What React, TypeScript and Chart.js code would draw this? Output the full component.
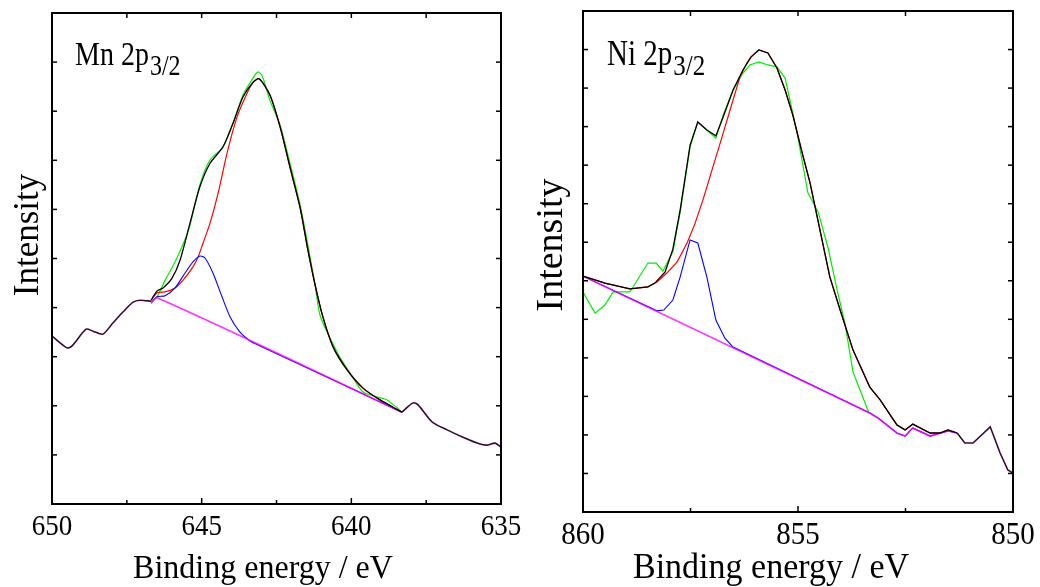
import React, { useEffect, useRef } from "react";
import { Chart, registerables } from "chart.js";
Chart.register(...registerables);

// ---------------- Mn 2p3/2 panel ----------------
const mnXTicks = [650, 645, 640, 635];
const mnXMinor = [647.5, 642.5, 637.5];
const mnYTicks = [1, 2, 3, 4, 5, 6, 7, 8, 9];

const mnHeadE = [650.0, 649.5, 649.33, 648.86, 648.63, 648.3, 647.96, 647.63, 647.29, 647.06, 646.69];
const mnHeadI = [3.42, 3.18, 3.22, 3.56, 3.52, 3.46, 3.69, 3.91, 4.11, 4.15, 4.13];

const mnTailE = [638.31, 637.94, 637.77, 637.3, 636.8, 636.27, 635.7, 635.47, 635.2, 635.0];
const mnTailI = [1.87, 2.06, 2.02, 1.67, 1.51, 1.36, 1.22, 1.2, 1.24, 1.16];

const mnFitE = [646.69, 646.49, 646.29, 645.99, 645.72, 645.39, 645.06, 644.72, 644.29, 643.95, 643.62, 643.28, 643.08, 642.72, 642.38, 642.05, 641.71, 641.45, 641.21, 640.95, 640.61, 640.14, 639.61, 639.04, 638.31];
const mnFitI = [4.15, 4.34, 4.4, 4.6, 4.97, 5.72, 6.46, 6.94, 7.27, 7.76, 8.29, 8.59, 8.66, 8.33, 7.68, 6.86, 6.03, 5.17, 4.46, 3.81, 3.2, 2.73, 2.36, 2.12, 1.87];

const mnRawE = [646.69, 646.49, 646.22, 645.89, 645.56, 645.39, 645.06, 644.72, 644.29, 643.95, 643.62, 643.28, 643.12, 642.98, 642.72, 642.38, 642.05, 641.71, 641.45, 641.21, 641.05, 640.71, 640.38, 639.94, 639.61, 639.14, 638.81, 638.47, 638.31];
const mnRawI = [4.13, 4.22, 4.56, 4.93, 5.38, 5.68, 6.5, 7.01, 7.27, 7.76, 8.33, 8.68, 8.8, 8.72, 8.22, 7.72, 6.94, 6.09, 5.27, 4.46, 3.85, 3.38, 2.99, 2.57, 2.28, 2.18, 2.12, 1.96, 1.87];

const mnMainE = [646.69, 646.49, 646.22, 645.89, 645.62, 645.29, 645.12, 644.95, 644.72, 644.45, 644.15, 643.82, 643.48, 643.28, 643.08, 642.72, 642.38, 642.05, 641.71, 641.45, 641.21, 640.95, 640.61, 640.14, 639.61, 639.04, 638.31];
const mnMainI = [4.15, 4.3, 4.32, 4.4, 4.56, 4.83, 5.03, 5.32, 5.72, 6.33, 7.15, 7.88, 8.37, 8.59, 8.66, 8.33, 7.68, 6.86, 6.03, 5.17, 4.46, 3.81, 3.2, 2.73, 2.36, 2.12, 1.87];

const mnSatE = [646.69, 646.49, 646.22, 645.89, 645.56, 645.29, 645.06, 644.89, 644.62, 644.32, 644.05, 643.72, 643.38, 643.05, 638.31];
const mnSatI = [4.09, 4.22, 4.24, 4.4, 4.7, 4.93, 5.05, 5.01, 4.7, 4.22, 3.81, 3.5, 3.32, 3.22, 1.87];

const mnBgE = [646.69, 646.49, 638.31];
const mnBgI = [4.09, 4.2, 1.87];

// ---------------- Ni 2p3/2 panel ----------------
const niXTicks = [860, 855, 850];
const niXMinor = [857.5, 852.5];
const niYTicks = [1, 2, 3, 4, 5, 6, 7, 8, 9, 10, 11, 12];

const niTailE = [851.3, 851.12, 850.93, 850.53, 850.3, 850.12, 850.0];
const niTailI = [2.05, 1.79, 1.79, 2.21, 1.53, 1.09, 1.01];

const niFitE = [860.0, 859.49, 858.91, 858.49, 858.33, 858.09, 857.91, 857.74, 857.51, 857.33, 857.12, 856.91, 856.74, 856.51, 856.28, 856.09, 855.91, 855.7, 855.49, 855.3, 855.12, 854.91, 854.72, 854.49, 854.26, 854.02, 853.72, 853.33, 853.09, 852.7, 852.51, 852.33, 851.93, 851.7, 851.51, 851.3];
const niFitI = [6.12, 5.94, 5.79, 5.84, 5.94, 6.23, 6.82, 7.84, 9.52, 10.12, 9.91, 9.76, 10.25, 10.95, 11.47, 11.81, 11.99, 11.91, 11.52, 10.95, 10.3, 9.35, 8.54, 7.32, 6.1, 5.24, 4.2, 3.24, 2.91, 2.26, 2.13, 2.28, 2.05, 2.05, 2.13, 2.05];

const niRawE = [860.0, 859.72, 859.49, 859.3, 858.91, 858.49, 858.3, 858.14, 857.91, 857.74, 857.51, 857.33, 857.12, 856.91, 856.74, 856.51, 856.28, 856.12, 855.91, 855.7, 855.49, 855.3, 855.02, 854.77, 854.53, 854.3, 854.09, 853.91, 853.72, 853.56, 853.35];
const niRawI = [5.71, 5.16, 5.37, 5.71, 5.71, 6.46, 6.46, 6.25, 6.75, 7.78, 9.47, 10.12, 9.91, 9.7, 10.3, 10.95, 11.39, 11.6, 11.68, 11.6, 11.55, 11.26, 9.83, 8.28, 7.78, 6.85, 5.76, 4.9, 3.63, 3.17, 2.57];

const niMainE = [860.0, 859.49, 858.91, 858.49, 858.28, 858.05, 857.81, 857.58, 857.4, 857.21, 857.05, 856.81, 856.58, 856.35, 856.19, 856.09, 855.91, 855.7, 855.49, 855.3, 855.12, 854.91, 854.72, 854.49, 854.26, 854.02, 853.72, 853.33, 853.09, 852.7, 852.51, 852.33, 851.93, 851.7, 851.51, 851.3];
const niMainI = [6.12, 5.94, 5.79, 5.84, 5.97, 6.2, 6.49, 6.98, 7.47, 8.1, 8.69, 9.57, 10.43, 11.29, 11.65, 11.81, 11.99, 11.91, 11.52, 10.95, 10.3, 9.35, 8.54, 7.32, 6.1, 5.24, 4.2, 3.24, 2.91, 2.26, 2.13, 2.28, 2.05, 2.05, 2.13, 2.05];

const niSatE = [860.0, 858.28, 858.12, 857.91, 857.74, 857.51, 857.33, 857.12, 856.91, 856.7, 856.51, 853.33, 853.14, 852.7, 852.51, 852.33, 851.93, 851.51, 851.3];
const niSatI = [6.12, 5.22, 5.24, 5.5, 6.1, 7.06, 6.98, 6.1, 4.98, 4.51, 4.28, 2.57, 2.44, 2.05, 1.97, 2.18, 1.97, 2.1, 2.05];

const niBgE = [860.0, 853.33, 853.14, 852.7, 852.51, 852.33, 851.93, 851.51, 851.3];
const niBgI = [6.12, 2.57, 2.44, 2.05, 1.97, 2.18, 1.97, 2.1, 2.05];

const SERIF = '"Liberation Serif", "Times New Roman", serif';

const pts = (e: number[], v: number[]) => e.map((x, i) => ({ x, y: v[i] }));

type Line = { e: number[]; v: number[]; color: string; width: number; order: number };

type PanelCfg = {
  left: number;
  canvasW: number;
  xMin: number;
  xMax: number;
  yMax: number;
  xTicks: number[];
  xMinor: number[];
  yTicks: number[];
  pad: { top: number; right: number };
  yAxisW: number;
  xAxisH: number;
  tickFont: number;
  tickBase: number;
  tension: number;
  label: string;
  labelFont: number;
  subFont: number;
  labelPos: [number, number];
  xTitleFont: number;
  xTitlePos: [number, number];
  yTitleFont: number;
  yTitlePos: [number, number];
  lines: Line[];
};

const MAGENTA = "rgba(255,0,255,0.8)";
const DARK = "#380838";

const mnLines: Line[] = [
  { e: mnHeadE, v: mnHeadI, color: DARK, width: 1.6, order: 1 },
  { e: mnTailE, v: mnTailI, color: DARK, width: 1.6, order: 1 },
  { e: mnFitE, v: mnFitI, color: "#000000", width: 1.3, order: 0 },
  { e: mnBgE, v: mnBgI, color: MAGENTA, width: 1.6, order: 2 },
  { e: mnSatE, v: mnSatI, color: "#0000ff", width: 1.1, order: 3 },
  { e: mnMainE, v: mnMainI, color: "#ff0000", width: 1.2, order: 4 },
  { e: mnRawE, v: mnRawI, color: "#00ee00", width: 1.2, order: 5 },
];

const niLines: Line[] = [
  { e: niTailE, v: niTailI, color: DARK, width: 1.6, order: 1 },
  { e: niFitE, v: niFitI, color: "#000000", width: 1.3, order: 0 },
  { e: niBgE, v: niBgI, color: MAGENTA, width: 1.6, order: 2 },
  { e: niSatE, v: niSatI, color: "#0000ff", width: 1.1, order: 3 },
  { e: niMainE, v: niMainI, color: "#ff0000", width: 1.2, order: 4 },
  { e: niRawE, v: niRawI, color: "#00ee00", width: 1.2, order: 5 },
];

const panels: PanelCfg[] = [
  {
    left: 0, canvasW: 560, xMin: 635, xMax: 650, yMax: 10,
    xTicks: mnXTicks, xMinor: mnXMinor, yTicks: mnYTicks,
    pad: { top: 13, right: 59 }, yAxisW: 52, xAxisH: 83,
    tickFont: 27, tickBase: 535, tension: 0.25,
    label: "Mn 2p", labelFont: 28, subFont: 24, labelPos: [75, 65],
    xTitleFont: 32, xTitlePos: [263, 578],
    yTitleFont: 35, yTitlePos: [29, 235],
    lines: mnLines,
  },
  {
    left: 520, canvasW: 520, xMin: 850, xMax: 860, yMax: 13,
    xTicks: niXTicks, xMinor: niXMinor, yTicks: niYTicks,
    pad: { top: 11, right: 27 }, yAxisW: 63, xAxisH: 75,
    tickFont: 29, tickBase: 544, tension: 0,
    label: "Ni 2p", labelFont: 29, subFont: 25, labelPos: [87, 65],
    xTitleFont: 34, xTitlePos: [251, 578],
    yTitleFont: 38, yTitlePos: [32, 245],
    lines: niLines,
  },
];

function stretchedText(ctx: any, text: string, x: number, y: number, sy: number) {
  ctx.save();
  ctx.translate(x, y);
  ctx.scale(1, sy);
  ctx.fillText(text, 0, 0);
  ctx.restore();
}

function decor(p: PanelCfg) {
  return {
    id: "decor",
    afterDraw(chart: any) {
      const { ctx, chartArea: a, scales } = chart;
      const xs = scales.x;
      const ys = scales.y;
      const seg = (x1: number, y1: number, x2: number, y2: number) => {
        ctx.beginPath();
        ctx.moveTo(x1, y1);
        ctx.lineTo(x2, y2);
        ctx.stroke();
      };
      ctx.save();
      ctx.strokeStyle = "#000";
      ctx.lineWidth = 2;
      ctx.strokeRect(a.left, a.top, a.right - a.left, a.bottom - a.top);
      ctx.lineWidth = 1.5;
      for (const v of p.yTicks) {
        const y = ys.getPixelForValue(v);
        seg(a.left, y, a.left + 5, y);
        seg(a.right - 5, y, a.right, y);
      }
      for (const e of p.xTicks) {
        const x = xs.getPixelForValue(e);
        seg(x, a.bottom, x, a.bottom - 6);
        seg(x, a.top, x, a.top + 5);
      }
      for (const e of p.xMinor) {
        const x = xs.getPixelForValue(e);
        seg(x, a.bottom, x, a.bottom - 4);
        seg(x, a.top, x, a.top + 5);
      }
      ctx.fillStyle = "#000";
      ctx.textBaseline = "alphabetic";
      // x tick labels from the axis ticks
      ctx.textAlign = "center";
      ctx.font = `${p.tickFont}px ${SERIF}`;
      for (const t of xs.ticks) {
        const x = xs.getPixelForValue(t.value);
        stretchedText(ctx, String(t.value), x, p.tickBase, 1.12);
      }
      // panel label with subscript
      ctx.textAlign = "left";
      ctx.font = `${p.labelFont}px ${SERIF}`;
      const [lx, ly] = p.labelPos;
      stretchedText(ctx, p.label, lx, ly, 1.2);
      const w = ctx.measureText(p.label).width;
      ctx.font = `${p.subFont}px ${SERIF}`;
      stretchedText(ctx, "3/2", lx + w + 1, ly + 10, 1.2);
      // x title
      ctx.font = `${p.xTitleFont}px ${SERIF}`;
      ctx.textAlign = "center";
      stretchedText(ctx, "Binding energy / eV", p.xTitlePos[0], p.xTitlePos[1], 1.08);
      // y title
      ctx.font = `${p.yTitleFont}px ${SERIF}`;
      ctx.textBaseline = "middle";
      ctx.save();
      ctx.translate(p.yTitlePos[0], p.yTitlePos[1]);
      ctx.rotate(-Math.PI / 2);
      ctx.fillText("Intensity", 0, 0);
      ctx.restore();
      ctx.restore();
    },
  };
}

function Panel({ p }: { p: PanelCfg }) {
  const ref = useRef<HTMLCanvasElement | null>(null);
  useEffect(() => {
    if (!ref.current) return;
    const chart = new Chart(ref.current, {
      type: "line",
      data: {
        datasets: p.lines.map((l) => ({
          data: pts(l.e, l.v),
          borderColor: l.color,
          borderWidth: l.width,
          order: l.order,
          pointRadius: 0,
          tension: p.tension,
          fill: false,
        })),
      },
      options: {
        animation: false,
        responsive: false,
        devicePixelRatio: 1,
        layout: { padding: { top: p.pad.top, right: p.pad.right, left: 0, bottom: 0 } },
        plugins: { legend: { display: false }, tooltip: { enabled: false } },
        scales: {
          x: {
            type: "linear",
            reverse: true,
            min: p.xMin,
            max: p.xMax,
            grid: { display: false, drawTicks: false },
            border: { display: false },
            afterBuildTicks: (ax: any) => {
              ax.ticks = p.xTicks.map((v) => ({ value: v }));
            },
            afterFit: (ax: any) => {
              ax.height = p.xAxisH;
            },
            ticks: { display: false },
          },
          y: {
            type: "linear",
            min: 0,
            max: p.yMax,
            grid: { display: false, drawTicks: false },
            border: { display: false },
            ticks: { display: false },
            afterFit: (ax: any) => {
              ax.width = p.yAxisW;
            },
          },
        },
      } as any,
      plugins: [decor(p)],
    });
    return () => chart.destroy();
  }, [p]);
  return (
    <canvas
      ref={ref}
      width={p.canvasW}
      height={587}
      style={{ position: "absolute", left: p.left, top: 0, width: p.canvasW, height: 587 }}
    />
  );
}

export default function App() {
  return (
    <div
      style={{
        position: "absolute",
        left: 0,
        top: 0,
        width: 1040,
        height: 587,
        background: "#fff",
        overflow: "hidden",
      }}
    >
      <Panel p={panels[0]} />
      <Panel p={panels[1]} />
    </div>
  );
}
